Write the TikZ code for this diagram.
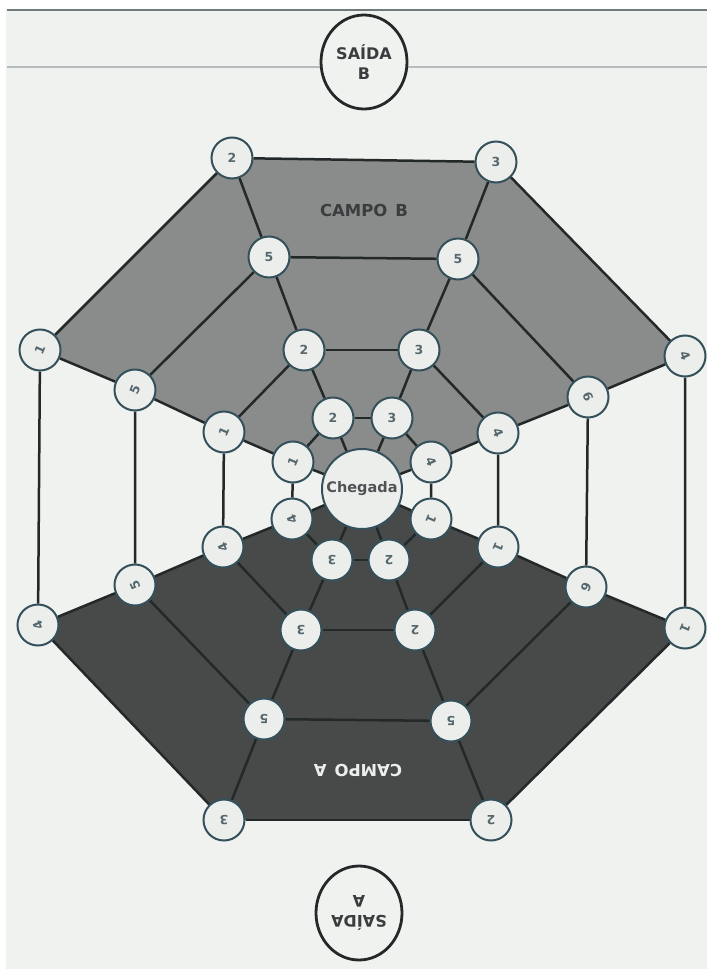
\documentclass[tikz,border=0pt]{standalone}
\usepackage{fontspec}
\setmainfont{DejaVu Sans}
\usetikzlibrary{shapes.geometric}
\definecolor{paper}{HTML}{F0F2F0}
\definecolor{campob}{HTML}{8A8C8C}
\definecolor{campoa}{HTML}{484A4A}
\definecolor{nodefill}{HTML}{ECEEEC}
\definecolor{ring}{HTML}{34505A}
\definecolor{edgec}{HTML}{232829}
\definecolor{digit}{HTML}{56676D}
\definecolor{rulea}{HTML}{6F7A7A}
\definecolor{ruleb}{HTML}{B4BCBC}
\pgfdeclarelayer{back}
\pgfsetlayers{back,main}
\begin{document}
\begin{tikzpicture}[x=1pt,y=-1pt,
  spot/.style={circle, draw=ring, line width=2pt, fill=nodefill, minimum size=41pt,
    inner sep=0pt, font=\bfseries\fontsize{12.5}{12.5}\selectfont, text=digit},
  goal/.style={spot, minimum size=80pt, text=edgec!80,
    font=\bfseries\fontsize{14.5}{14.5}\selectfont},
  exitc/.style={ellipse, draw=edgec, line width=2.8pt, fill=paper, minimum width=86pt,
    minimum height=94pt, inner sep=0pt, align=center, text=edgec!90,
    font=\bfseries\fontsize{16}{20}\selectfont},
  field/.style={font=\bfseries\fontsize{16.5}{16.5}\selectfont},
  link/.style={draw=edgec, line width=2.5pt},
]
\useasboundingbox (0,0) rectangle (707,969);
% exits
\node[exitc] (sb) at (364,62) {SAÍDA\\B};
\node[exitc, rotate=180] (sa) at (359,913) {SAÍDA\\A};
% field labels
\node[field, text=edgec!90] (cb) at (364,210) {CAMPO\hspace{8pt}B};
\node[field, text=nodefill, rotate=180] (ca) at (358,770) {CAMPO\hspace{8pt}A};
% outer ring
\node[spot, rotate=67]   (o1) at (40,350)  {1};
\node[spot]              (o2) at (232,158) {2};
\node[spot]              (o3) at (496,162) {3};
\node[spot, rotate=-67]  (o4) at (685,356) {4};
\node[spot, rotate=-113] (o5) at (685,628) {1};
\node[spot, rotate=180]  (o6) at (491,820) {2};
\node[spot, rotate=180]  (o7) at (224,820) {3};
\node[spot, rotate=113]  (o8) at (38,625)  {4};
% second ring
\node[spot, rotate=67]   (s1) at (135,390) {5};
\node[spot]              (s2) at (269,257) {5};
\node[spot]              (s3) at (458,259) {5};
\node[spot, rotate=-67]  (s4) at (588,397) {6};
\node[spot, rotate=-113] (s5) at (586,587) {6};
\node[spot, rotate=180]  (s6) at (451,721) {5};
\node[spot, rotate=180]  (s7) at (264,719) {5};
\node[spot, rotate=113]  (s8) at (135,585) {5};
% third ring
\node[spot, rotate=67]   (t1) at (224,432) {1};
\node[spot]              (t2) at (304,350) {2};
\node[spot]              (t3) at (419,350) {3};
\node[spot, rotate=-67]  (t4) at (498,433) {4};
\node[spot, rotate=-113] (t5) at (498,547) {1};
\node[spot, rotate=180]  (t6) at (415,630) {2};
\node[spot, rotate=180]  (t7) at (301,630) {3};
\node[spot, rotate=113]  (t8) at (223,547) {4};
% inner ring
\node[spot, rotate=67]   (i1) at (293,462) {1};
\node[spot]              (i2) at (333,418) {2};
\node[spot]              (i3) at (392,418) {3};
\node[spot, rotate=-67]  (i4) at (431,462) {4};
\node[spot, rotate=-113] (i5) at (431,519) {1};
\node[spot, rotate=180]  (i6) at (389,560) {2};
\node[spot, rotate=180]  (i7) at (332,560) {3};
\node[spot, rotate=113]  (i8) at (292,519) {4};
% centre
\node[goal] (c) at (362,489) {Chegada};
\begin{pgfonlayer}{back}
  \fill[white] (0,0) rectangle (707,969);
  \fill[paper] (6,9) rectangle (707,969);
  \draw[rulea, line width=2.5pt] (7,10) -- (707,10);
  \draw[ruleb, line width=2pt] (7,67) -- (707,67);
  \fill[campob] (o1.center) -- (o2.center) -- (o3.center) -- (o4.center) -- (s4.center)
    -- (t4.center) -- (i4.center) -- (c.center) -- (i1.center) -- (t1.center)
    -- (s1.center) -- cycle;
  \fill[campoa] (o8.center) -- (s8.center) -- (t8.center) -- (i8.center) -- (c.center)
    -- (i5.center) -- (t5.center) -- (s5.center) -- (o5.center) -- (o6.center)
    -- (o7.center) -- cycle;
  \foreach \r in {o,s,t,i} {
    \foreach \a/\b in {1/2,2/3,3/4,4/5,5/6,6/7,7/8,8/1}
      \draw[link] (\r\a) -- (\r\b);
  }
  \foreach \k in {1,...,8} {
    \draw[link] (o\k) -- (s\k);
    \draw[link] (s\k) -- (t\k);
    \draw[link] (t\k) -- (i\k);
    \draw[link] (i\k) -- (c);
  }
\end{pgfonlayer}
\end{tikzpicture}
\end{document}
